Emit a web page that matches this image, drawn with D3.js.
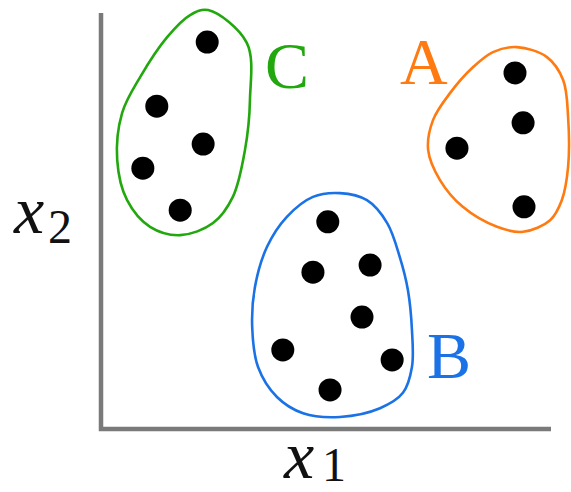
<!DOCTYPE html>
<html>
<head>
<meta charset="utf-8">
<script src="https://cdn.jsdelivr.net/npm/d3@7"></script>
<style>
  body { margin: 0; background: #fff; }
  svg { display: block; }
</style>
</head>
<body>
<div id="chart"></div>
<script>
// Points de chaque groupe (unités des axes, de 0 à 100)
const pointsA = [[92.0, 85.6], [93.8, 73.6], [79.1, 67.5], [94.0, 53.4]];
const pointsB = [[50.4, 49.8], [47.1, 37.7], [59.8, 39.4], [58.0, 26.9], [40.4, 19.0], [64.7, 16.6], [50.9, 9.4]];
const pointsC = [[23.6, 93.0], [12.4, 77.6], [22.7, 68.5], [9.3, 62.7], [17.6, 52.6]];

// Contours dessinés autour des groupes
const outlineA = [[92.4, 91.8], [99.1, 89.4], [102.7, 83.9], [103.8, 75.0], [103.8, 63.0], [102.4, 55.0], [99.8, 50.2],
  [93.8, 47.4], [88.0, 48.6], [80.4, 53.4], [75.3, 59.9], [72.7, 67.1], [73.8, 74.3], [77.6, 80.8], [82.7, 87.0], [87.1, 90.6]];
const outlineB = [[53.1, 56.7], [59.1, 55.0], [63.6, 49.5], [66.4, 41.3], [68.2, 33.4], [69.1, 23.8], [69.1, 14.9], [67.1, 8.7],
  [62.0, 5.0], [53.1, 2.9], [44.9, 3.8], [39.1, 7.7], [34.9, 14.9], [33.6, 24.5], [34.2, 34.1], [36.9, 43.8], [41.3, 51.0], [47.1, 55.8]];
const outlineC = [[23.8, 100.7], [32.4, 92.8], [33.1, 79.1], [32.0, 67.1], [29.3, 55.8], [24.9, 49.5], [17.6, 46.6], [10.9, 48.6],
  [5.8, 55.0], [3.6, 64.7], [4.7, 76.0], [8.7, 84.6], [14.7, 94.2], [19.8, 99.5]];

const groupNames = ["A", "B", "C"];
const axisLabels = ["x", "x"];
const axisSubscripts = ["1", "2"];

function drawChart() {
    const width = 571;
    const height = 492;
    const colors = { A: "#ff7a10", B: "#1a72e6", C: "#22a80e" };

    const svg = d3.select("#chart")
        .append("svg")
        .attr("width", width)
        .attr("height", height);

    const x = d3.scaleLinear().domain([0, 100]).range([101, 551]);
    const y = d3.scaleLinear().domain([0, 100]).range([429, 13]);

    // Axes (simples traits gris, sans graduations)
    svg.append("path")
        .attr("d", "M" + x(0) + "," + y(100) + "V" + y(0) + "H" + x(100))
        .attr("fill", "none")
        .attr("stroke", "#7a7a7a")
        .attr("stroke-width", 4.5);

    const groups = [
        { name: groupNames[0], points: pointsA, outline: outlineA },
        { name: groupNames[1], points: pointsB, outline: outlineB },
        { name: groupNames[2], points: pointsC, outline: outlineC }
    ];

    const line = d3.line()
        .x(d => x(d[0]))
        .y(d => y(d[1]))
        .curve(d3.curveCatmullRomClosed.alpha(0.5));

    svg.selectAll(".outline")
        .data(groups)
        .enter()
        .append("path")
        .attr("class", "outline")
        .attr("d", d => line(d.outline))
        .attr("fill", "none")
        .attr("stroke", d => colors[d.name])
        .attr("stroke-width", 2.6);

    const allPoints = groups.flatMap(g => g.points);
    svg.selectAll(".dot")
        .data(allPoints)
        .enter()
        .append("circle")
        .attr("class", "dot")
        .attr("cx", d => x(d[0]))
        .attr("cy", d => y(d[1]))
        .attr("r", 11.5)
        .attr("fill", "#000");

    // Lettres des groupes
    const labelPos = { A: [400, 84], B: [427, 378], C: [265, 88] };
    svg.selectAll(".group-label")
        .data(groups)
        .enter()
        .append("text")
        .attr("class", "group-label")
        .attr("x", d => labelPos[d.name][0])
        .attr("y", d => labelPos[d.name][1])
        .attr("font-family", "Liberation Serif, serif")
        .attr("font-size", 66)
        .attr("fill", d => colors[d.name])
        .text(d => d.name);

    // Titres des axes : x1 en bas, x2 à gauche
    const axisPos = [[284, 478, 322, 481], [14, 233, 48, 243]];
    axisPos.forEach((p, i) => {
        const t = svg.append("text")
            .attr("font-family", "Liberation Serif, serif")
            .attr("fill", "#111");
        t.append("tspan")
            .attr("x", p[0])
            .attr("y", p[1])
            .attr("font-style", "italic")
            .attr("font-size", 68)
            .text(axisLabels[i]);
        t.append("tspan")
            .attr("x", p[2])
            .attr("y", p[3])
            .attr("font-size", 48)
            .text(axisSubscripts[i]);
    });
}

drawChart();
</script>
</body>
</html>
